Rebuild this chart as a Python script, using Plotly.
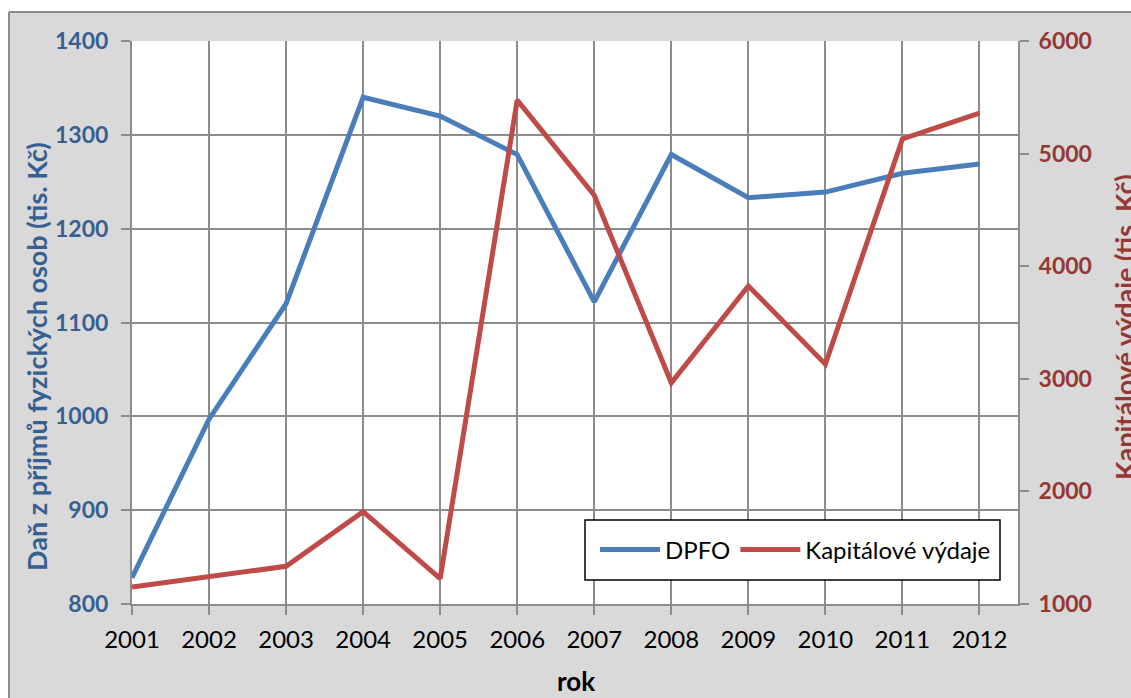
import plotly.graph_objects as go

years = [2001, 2002, 2003, 2004, 2005, 2006, 2007, 2008, 2009, 2010, 2011, 2012]
dpfo = [828, 997, 1120, 1340, 1320, 1279, 1122, 1279, 1233, 1239, 1259, 1269]
kapitalove = [1150, 1240, 1335, 1820, 1225, 5475, 4630, 2965, 3825, 3130, 5130, 5360]

FONT = "Lato"
GRID = "#8c8c8c"
BLUE_TXT = "#376092"
RED_TXT = "#953735"

fig = go.Figure()
fig.add_trace(go.Scatter(x=years, y=dpfo, name="DPFO", mode="lines",
                         line=dict(color="#4a7ebb", width=5)))
fig.add_trace(go.Scatter(x=years, y=kapitalove, name="Kapitálové výdaje", mode="lines",
                         line=dict(color="#be4b48", width=5), yaxis="y2"))

fig.update_layout(
    width=1131, height=698,
    margin=dict(l=132, r=113, t=41, b=94),
    paper_bgcolor="#d9d9d9",
    plot_bgcolor="white",
    font=dict(family=FONT, size=24, color="black"),
    showlegend=True,
    legend=dict(orientation="h", x=0.5226, y=(604 - 550) / 563, xanchor="left",
                yanchor="middle", bgcolor="rgba(0,0,0,0)", borderwidth=0,
                font=dict(size=24), itemwidth=60),
    xaxis=dict(range=[2001, 2012.5], tickvals=years, showgrid=True, gridcolor=GRID,
               gridwidth=2, showline=True, linecolor=GRID, linewidth=2,
               ticks="outside", ticklen=9, tickcolor=GRID, tickwidth=2,
               zeroline=False, tickfont=dict(size=24), ticklabelstandoff=4),
    yaxis=dict(range=[800, 1400], dtick=100, showgrid=True, gridcolor=GRID, gridwidth=2,
               showline=True, linecolor=GRID, linewidth=2, ticks="outside", ticklen=9,
               tickcolor=GRID, tickwidth=2, zeroline=False, automargin=False,
               ticklabelstandoff=8,
               tickfont=dict(color=BLUE_TXT, size=23, family=FONT, weight="bold")),
    yaxis2=dict(range=[1000, 6000], dtick=1000, overlaying="y", side="right",
                showgrid=False, showline=True, linecolor=GRID, linewidth=2,
                ticks="outside", ticklen=9, tickcolor=GRID, tickwidth=2, zeroline=False,
                automargin=False, ticklabelstandoff=5,
                tickfont=dict(color=RED_TXT, size=23, family=FONT, weight="bold")),
)

# axis titles (placed as in the original, left one sits a bit low,
# right one runs off the edge of the chart like in the source image)
fig.add_annotation(text="<b>Daň z příjmů fyzických osob (tis. Kč)</b>", textangle=-90,
                   xref="paper", yref="paper", x=(36 - 132) / 886, y=(604 - 357) / 563,
                   xanchor="center", yanchor="middle",
                   showarrow=False, font=dict(color=BLUE_TXT, size=27))
fig.add_annotation(text="<b>Kapitálové výdaje (tis. Kč)</b>", textangle=-90,
                   xref="paper", yref="paper", x=(1124 - 132) / 886, y=(604 - 327) / 563,
                   xanchor="center", yanchor="middle",
                   showarrow=False, font=dict(color=RED_TXT, size=27))
fig.add_annotation(text="<b>rok</b>", xref="paper", yref="paper",
                   x=(576 - 132) / 886, y=(604 - 681) / 563,
                   xanchor="center", yanchor="middle",
                   showarrow=False, font=dict(size=26))

# legend frame
fig.add_shape(type="rect", xref="paper", yref="paper",
              x0=(585 - 132) / 886, x1=(1000 - 132) / 886,
              y0=(604 - 580) / 563, y1=(604 - 520) / 563,
              fillcolor="white", line=dict(color="black", width=1.5), layer="above")

# white outer strip and border of the chart area
x_left = (9 - 132) / 886
y_top = (604 - 12) / 563
fig.add_shape(type="rect", xref="paper", yref="paper", x0=-0.3, x1=x_left, y0=-0.5, y1=1.5,
              fillcolor="white", line_width=0, layer="below")
fig.add_shape(type="rect", xref="paper", yref="paper", x0=-0.3, x1=1.5, y0=y_top, y1=1.5,
              fillcolor="white", line_width=0, layer="below")
fig.add_shape(type="line", xref="paper", yref="paper", x0=x_left, x1=x_left, y0=-0.5, y1=y_top,
              line=dict(color=GRID, width=2), layer="below")
fig.add_shape(type="line", xref="paper", yref="paper", x0=x_left, x1=1.5, y0=y_top, y1=y_top,
              line=dict(color=GRID, width=2), layer="below")

# page body has a default 8px margin; drop it so the figure fills the window
fig.write_html("out.html", config={"displayModeBar": False},
               post_script="document.body.style.margin='0px';")
